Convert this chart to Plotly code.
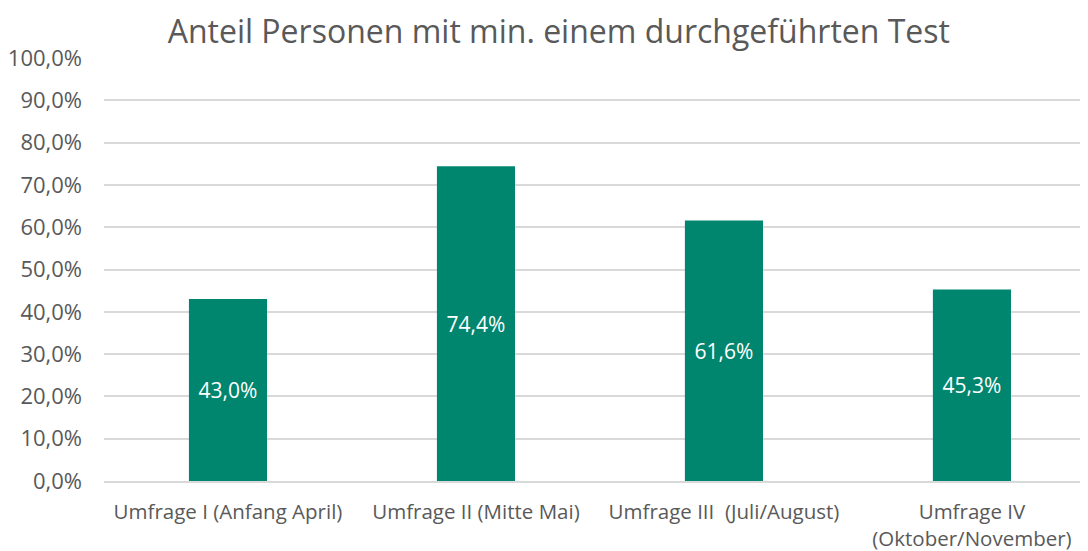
import plotly.graph_objects as go

categories = ["Umfrage I (Anfang April)", "Umfrage II (Mitte Mai)", "Umfrage III  (Juli/August)", "Umfrage IV<br>(Oktober/November)"]
values = [43.0, 74.4, 61.6, 45.3]
labels = ["43,0%", "74,4%", "61,6%", "45,3%"]
tick_vals = [0, 10, 20, 30, 40, 50, 60, 70, 80, 90, 100]
tick_text = ["0,0%", "10,0%", "20,0%", "30,0%", "40,0%", "50,0%", "60,0%", "70,0%", "80,0%", "90,0%", "100,0%"]

FONT = "Open Sans"
GREY = "#595959"

fig = go.Figure(go.Bar(
    x=list(range(len(categories))), y=values, text=labels,
    textposition="inside", insidetextanchor="middle",
    textfont=dict(color="white", size=21, family=FONT),
    marker=dict(color="#00856F", line=dict(width=0)),
    width=0.315,
))

fig.update_layout(
    width=1080, height=543,
    margin=dict(l=96, r=0, t=50, b=70),
    paper_bgcolor="white", plot_bgcolor="white",
    title=dict(text="Anteil Personen mit min. einem durchgeführten Test",
               x=0.510, xanchor="center", y=0.957, yanchor="middle",
               font=dict(family=FONT, size=32, color=GREY)),
    font=dict(family=FONT, color=GREY, size=20),
    showlegend=False,
    uniformtext=dict(mode=False),
)
fig.update_xaxes(tickvals=list(range(len(categories))), ticktext=categories,
                 range=[-0.5, 3.468], showgrid=False, showline=True,
                 linecolor="#d9d9d9", linewidth=1.5, ticks="",
                 tickfont=dict(size=20.5, color=GREY, family=FONT), ticklabelstandoff=12)
fig.update_yaxes(range=[0, 100], tickvals=tick_vals, ticktext=tick_text,
                 showgrid=True, gridcolor="#d9d9d9", gridwidth=1.5,
                 zeroline=False, ticks="", ticklabelstandoff=21,
                 tickfont=dict(size=22, color=GREY, family=FONT))

fig.write_html("out.html")
